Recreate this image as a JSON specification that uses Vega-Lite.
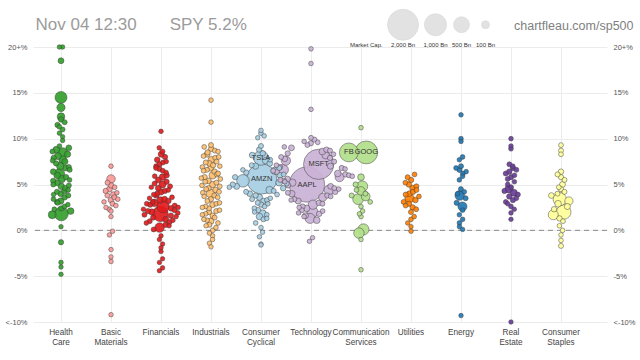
{
  "$schema": "https://vega.github.io/schema/vega-lite/v6.json",
  "width": 574,
  "height": 275,
  "autosize": {"type": "none"},
  "padding": {"left": 33, "top": 47, "right": 33, "bottom": 38},
  "background": "white",
  "config": {
    "font": "Liberation Sans",
    "view": {"stroke": null},
    "axis": {"labelFont": "Liberation Sans", "titleFont": "Liberation Sans"},
    "legend": {"labelFont": "Liberation Sans", "titleFont": "Liberation Sans"}
  },
  "resolve": {"axis": {"y": "independent"}},
  "layer": [
    {
      "data": {"values": [{}]},
      "mark": {"type": "rule", "strokeDash": [5, 4], "color": "#8a8a8a", "strokeWidth": 1},
      "encoding": {
        "y": {
          "datum": 0,
          "type": "quantitative",
          "scale": {"domain": [-10, 20], "clamp": true, "nice": false, "zero": false},
          "axis": {
            "orient": "right",
            "values": [-10, -5, 0, 5, 10, 15, 20],
            "labelExpr": "datum.value >= 20 ? '20+%' : datum.value <= -10 ? '<-10%' : datum.value + '%'",
            "labelFontSize": 7.5,
            "labelColor": "#555555",
            "labelPadding": 6,
            "ticks": false,
            "domain": false,
            "grid": false,
            "title": "chartfleau.com/sp500",
            "titleAngle": 0,
            "titleAlign": "right",
            "titleBaseline": "alphabetic",
            "titleX": 26,
            "titleY": -18,
            "titleFontSize": 12.5,
            "titleFontWeight": "normal",
            "titleColor": "#808080"
          }
        }
      }
    },
    {
      "data": {
        "values": [
          {"sector": "Health Care", "chg": 21, "cap": 12},
          {"sector": "Health Care", "chg": 20.3, "cap": 10},
          {"sector": "Health Care", "chg": 18.5, "cap": 40},
          {"sector": "Health Care", "chg": 14.5, "cap": 270},
          {"sector": "Health Care", "chg": 13.4, "cap": 110},
          {"sector": "Health Care", "chg": 12.4, "cap": 90},
          {"sector": "Health Care", "chg": 12.1, "cap": 30},
          {"sector": "Health Care", "chg": 11.8, "cap": 20},
          {"sector": "Health Care", "chg": 11.5, "cap": 25},
          {"sector": "Health Care", "chg": 11.3, "cap": 15},
          {"sector": "Health Care", "chg": 11.0, "cap": 18},
          {"sector": "Health Care", "chg": 10.6, "cap": 12},
          {"sector": "Health Care", "chg": 10.2, "cap": 10},
          {"sector": "Health Care", "chg": 9.8, "cap": 10},
          {"sector": "Health Care", "chg": 9.2, "cap": 12},
          {"sector": "Health Care", "chg": 9.0, "cap": 40},
          {"sector": "Health Care", "chg": 8.8, "cap": 60},
          {"sector": "Health Care", "chg": 8.6, "cap": 20},
          {"sector": "Health Care", "chg": 8.5, "cap": 150},
          {"sector": "Health Care", "chg": 8.3, "cap": 50},
          {"sector": "Health Care", "chg": 8.1, "cap": 70},
          {"sector": "Health Care", "chg": 7.9, "cap": 30},
          {"sector": "Health Care", "chg": 7.7, "cap": 100},
          {"sector": "Health Care", "chg": 7.6, "cap": 15},
          {"sector": "Health Care", "chg": 7.5, "cap": 45},
          {"sector": "Health Care", "chg": 7.3, "cap": 25},
          {"sector": "Health Care", "chg": 7.0, "cap": 90},
          {"sector": "Health Care", "chg": 6.9, "cap": 25},
          {"sector": "Health Care", "chg": 6.8, "cap": 40},
          {"sector": "Health Care", "chg": 6.6, "cap": 20},
          {"sector": "Health Care", "chg": 6.4, "cap": 35},
          {"sector": "Health Care", "chg": 6.2, "cap": 180},
          {"sector": "Health Care", "chg": 6.0, "cap": 60},
          {"sector": "Health Care", "chg": 5.8, "cap": 30},
          {"sector": "Health Care", "chg": 5.6, "cap": 80},
          {"sector": "Health Care", "chg": 5.5, "cap": 15},
          {"sector": "Health Care", "chg": 5.4, "cap": 25},
          {"sector": "Health Care", "chg": 5.2, "cap": 45},
          {"sector": "Health Care", "chg": 5.0, "cap": 20},
          {"sector": "Health Care", "chg": 4.9, "cap": 20},
          {"sector": "Health Care", "chg": 4.8, "cap": 55},
          {"sector": "Health Care", "chg": 4.6, "cap": 30},
          {"sector": "Health Care", "chg": 4.4, "cap": 15},
          {"sector": "Health Care", "chg": 4.3, "cap": 35},
          {"sector": "Health Care", "chg": 4.2, "cap": 25},
          {"sector": "Health Care", "chg": 4.0, "cap": 40},
          {"sector": "Health Care", "chg": 3.9, "cap": 12},
          {"sector": "Health Care", "chg": 3.8, "cap": 20},
          {"sector": "Health Care", "chg": 3.6, "cap": 30},
          {"sector": "Health Care", "chg": 3.4, "cap": 15},
          {"sector": "Health Care", "chg": 3.2, "cap": 50},
          {"sector": "Health Care", "chg": 3.1, "cap": 25},
          {"sector": "Health Care", "chg": 3.0, "cap": 20},
          {"sector": "Health Care", "chg": 2.8, "cap": 12},
          {"sector": "Health Care", "chg": 2.6, "cap": 18},
          {"sector": "Health Care", "chg": 2.4, "cap": 25},
          {"sector": "Health Care", "chg": 2.3, "cap": 15},
          {"sector": "Health Care", "chg": 2.1, "cap": 60},
          {"sector": "Health Care", "chg": 1.8, "cap": 380},
          {"sector": "Health Care", "chg": 1.7, "cap": 100},
          {"sector": "Health Care", "chg": 0.4, "cap": 10},
          {"sector": "Health Care", "chg": -1.3, "cap": 25},
          {"sector": "Health Care", "chg": -3.5, "cap": 12},
          {"sector": "Health Care", "chg": -4.0, "cap": 10},
          {"sector": "Health Care", "chg": -4.8, "cap": 10},

          {"sector": "Basic Materials", "chg": 7.0, "cap": 12},
          {"sector": "Basic Materials", "chg": 5.6, "cap": 120},
          {"sector": "Basic Materials", "chg": 5.2, "cap": 20},
          {"sector": "Basic Materials", "chg": 4.9, "cap": 30},
          {"sector": "Basic Materials", "chg": 4.7, "cap": 15},
          {"sector": "Basic Materials", "chg": 4.5, "cap": 40},
          {"sector": "Basic Materials", "chg": 4.3, "cap": 25},
          {"sector": "Basic Materials", "chg": 4.1, "cap": 12},
          {"sector": "Basic Materials", "chg": 3.9, "cap": 35},
          {"sector": "Basic Materials", "chg": 3.8, "cap": 18},
          {"sector": "Basic Materials", "chg": 3.6, "cap": 22},
          {"sector": "Basic Materials", "chg": 3.4, "cap": 15},
          {"sector": "Basic Materials", "chg": 3.3, "cap": 28},
          {"sector": "Basic Materials", "chg": 3.1, "cap": 12},
          {"sector": "Basic Materials", "chg": 2.9, "cap": 20},
          {"sector": "Basic Materials", "chg": 2.7, "cap": 14},
          {"sector": "Basic Materials", "chg": 2.5, "cap": 10},
          {"sector": "Basic Materials", "chg": 2.3, "cap": 16},
          {"sector": "Basic Materials", "chg": 2.1, "cap": 12},
          {"sector": "Basic Materials", "chg": 1.5, "cap": 10},
          {"sector": "Basic Materials", "chg": -0.1, "cap": 12},
          {"sector": "Basic Materials", "chg": -0.5, "cap": 10},
          {"sector": "Basic Materials", "chg": -2.1, "cap": 10},
          {"sector": "Basic Materials", "chg": -2.9, "cap": 10},
          {"sector": "Basic Materials", "chg": -3.4, "cap": 12},
          {"sector": "Basic Materials", "chg": -9.2, "cap": 10},

          {"sector": "Financials", "chg": 10.8, "cap": 12},
          {"sector": "Financials", "chg": 9.0, "cap": 12},
          {"sector": "Financials", "chg": 8.6, "cap": 20},
          {"sector": "Financials", "chg": 8.3, "cap": 45},
          {"sector": "Financials", "chg": 8.0, "cap": 25},
          {"sector": "Financials", "chg": 7.7, "cap": 35},
          {"sector": "Financials", "chg": 7.5, "cap": 12},
          {"sector": "Financials", "chg": 7.4, "cap": 18},
          {"sector": "Financials", "chg": 7.2, "cap": 30},
          {"sector": "Financials", "chg": 7.0, "cap": 15},
          {"sector": "Financials", "chg": 6.8, "cap": 15},
          {"sector": "Financials", "chg": 6.7, "cap": 25},
          {"sector": "Financials", "chg": 6.5, "cap": 20},
          {"sector": "Financials", "chg": 6.3, "cap": 15},
          {"sector": "Financials", "chg": 6.0, "cap": 30},
          {"sector": "Financials", "chg": 5.9, "cap": 15},
          {"sector": "Financials", "chg": 5.8, "cap": 60},
          {"sector": "Financials", "chg": 5.5, "cap": 40},
          {"sector": "Financials", "chg": 5.3, "cap": 25},
          {"sector": "Financials", "chg": 5.1, "cap": 20},
          {"sector": "Financials", "chg": 5.0, "cap": 70},
          {"sector": "Financials", "chg": 4.8, "cap": 20},
          {"sector": "Financials", "chg": 4.7, "cap": 12},
          {"sector": "Financials", "chg": 4.6, "cap": 35},
          {"sector": "Financials", "chg": 4.4, "cap": 15},
          {"sector": "Financials", "chg": 4.3, "cap": 25},
          {"sector": "Financials", "chg": 4.2, "cap": 50},
          {"sector": "Financials", "chg": 4.0, "cap": 25},
          {"sector": "Financials", "chg": 3.9, "cap": 15},
          {"sector": "Financials", "chg": 3.8, "cap": 30},
          {"sector": "Financials", "chg": 3.6, "cap": 18},
          {"sector": "Financials", "chg": 3.5, "cap": 12},
          {"sector": "Financials", "chg": 3.4, "cap": 40},
          {"sector": "Financials", "chg": 3.3, "cap": 60},
          {"sector": "Financials", "chg": 3.2, "cap": 30},
          {"sector": "Financials", "chg": 3.1, "cap": 20},
          {"sector": "Financials", "chg": 3.0, "cap": 90},
          {"sector": "Financials", "chg": 2.9, "cap": 15},
          {"sector": "Financials", "chg": 2.8, "cap": 25},
          {"sector": "Financials", "chg": 2.7, "cap": 20},
          {"sector": "Financials", "chg": 2.6, "cap": 300},
          {"sector": "Financials", "chg": 2.5, "cap": 15},
          {"sector": "Financials", "chg": 2.4, "cap": 35},
          {"sector": "Financials", "chg": 2.3, "cap": 12},
          {"sector": "Financials", "chg": 2.2, "cap": 20},
          {"sector": "Financials", "chg": 2.1, "cap": 25},
          {"sector": "Financials", "chg": 2.0, "cap": 50},
          {"sector": "Financials", "chg": 1.9, "cap": 15},
          {"sector": "Financials", "chg": 1.8, "cap": 480},
          {"sector": "Financials", "chg": 1.7, "cap": 20},
          {"sector": "Financials", "chg": 1.6, "cap": 30},
          {"sector": "Financials", "chg": 1.5, "cap": 12},
          {"sector": "Financials", "chg": 1.4, "cap": 25},
          {"sector": "Financials", "chg": 1.2, "cap": 40},
          {"sector": "Financials", "chg": 1.1, "cap": 15},
          {"sector": "Financials", "chg": 1.0, "cap": 20},
          {"sector": "Financials", "chg": 0.9, "cap": 25},
          {"sector": "Financials", "chg": 0.8, "cap": 15},
          {"sector": "Financials", "chg": 0.6, "cap": 30},
          {"sector": "Financials", "chg": 0.5, "cap": 12},
          {"sector": "Financials", "chg": 0.3, "cap": 160},
          {"sector": "Financials", "chg": 0.1, "cap": 20},
          {"sector": "Financials", "chg": -0.6, "cap": 12},
          {"sector": "Financials", "chg": -1.0, "cap": 10},
          {"sector": "Financials", "chg": -1.5, "cap": 12},
          {"sector": "Financials", "chg": -1.9, "cap": 10},
          {"sector": "Financials", "chg": -2.3, "cap": 12},
          {"sector": "Financials", "chg": -3.1, "cap": 10},
          {"sector": "Financials", "chg": -3.5, "cap": 10},
          {"sector": "Financials", "chg": -4.1, "cap": 12},
          {"sector": "Financials", "chg": -4.4, "cap": 10},

          {"sector": "Industrials", "chg": 14.2, "cap": 12},
          {"sector": "Industrials", "chg": 11.8, "cap": 12},
          {"sector": "Industrials", "chg": 9.3, "cap": 20},
          {"sector": "Industrials", "chg": 9.1, "cap": 15},
          {"sector": "Industrials", "chg": 8.9, "cap": 30},
          {"sector": "Industrials", "chg": 8.7, "cap": 18},
          {"sector": "Industrials", "chg": 8.6, "cap": 12},
          {"sector": "Industrials", "chg": 8.5, "cap": 25},
          {"sector": "Industrials", "chg": 8.3, "cap": 40},
          {"sector": "Industrials", "chg": 8.1, "cap": 15},
          {"sector": "Industrials", "chg": 8.0, "cap": 15},
          {"sector": "Industrials", "chg": 7.9, "cap": 22},
          {"sector": "Industrials", "chg": 7.7, "cap": 60},
          {"sector": "Industrials", "chg": 7.5, "cap": 18},
          {"sector": "Industrials", "chg": 7.4, "cap": 20},
          {"sector": "Industrials", "chg": 7.3, "cap": 35},
          {"sector": "Industrials", "chg": 7.1, "cap": 25},
          {"sector": "Industrials", "chg": 7.0, "cap": 12},
          {"sector": "Industrials", "chg": 6.9, "cap": 15},
          {"sector": "Industrials", "chg": 6.8, "cap": 45},
          {"sector": "Industrials", "chg": 6.6, "cap": 20},
          {"sector": "Industrials", "chg": 6.5, "cap": 15},
          {"sector": "Industrials", "chg": 6.4, "cap": 30},
          {"sector": "Industrials", "chg": 6.2, "cap": 18},
          {"sector": "Industrials", "chg": 6.1, "cap": 25},
          {"sector": "Industrials", "chg": 6.0, "cap": 80},
          {"sector": "Industrials", "chg": 5.8, "cap": 25},
          {"sector": "Industrials", "chg": 5.7, "cap": 12},
          {"sector": "Industrials", "chg": 5.6, "cap": 15},
          {"sector": "Industrials", "chg": 5.4, "cap": 35},
          {"sector": "Industrials", "chg": 5.3, "cap": 18},
          {"sector": "Industrials", "chg": 5.2, "cap": 20},
          {"sector": "Industrials", "chg": 5.0, "cap": 50},
          {"sector": "Industrials", "chg": 4.9, "cap": 12},
          {"sector": "Industrials", "chg": 4.8, "cap": 15},
          {"sector": "Industrials", "chg": 4.6, "cap": 25},
          {"sector": "Industrials", "chg": 4.5, "cap": 20},
          {"sector": "Industrials", "chg": 4.4, "cap": 30},
          {"sector": "Industrials", "chg": 4.2, "cap": 18},
          {"sector": "Industrials", "chg": 4.1, "cap": 15},
          {"sector": "Industrials", "chg": 4.0, "cap": 130},
          {"sector": "Industrials", "chg": 3.8, "cap": 20},
          {"sector": "Industrials", "chg": 3.7, "cap": 12},
          {"sector": "Industrials", "chg": 3.6, "cap": 15},
          {"sector": "Industrials", "chg": 3.4, "cap": 25},
          {"sector": "Industrials", "chg": 3.2, "cap": 18},
          {"sector": "Industrials", "chg": 3.0, "cap": 12},
          {"sector": "Industrials", "chg": 2.9, "cap": 15},
          {"sector": "Industrials", "chg": 2.8, "cap": 40},
          {"sector": "Industrials", "chg": 2.6, "cap": 15},
          {"sector": "Industrials", "chg": 2.5, "cap": 12},
          {"sector": "Industrials", "chg": 2.4, "cap": 20},
          {"sector": "Industrials", "chg": 2.2, "cap": 12},
          {"sector": "Industrials", "chg": 2.1, "cap": 20},
          {"sector": "Industrials", "chg": 2.0, "cap": 25},
          {"sector": "Industrials", "chg": 1.8, "cap": 15},
          {"sector": "Industrials", "chg": 1.7, "cap": 12},
          {"sector": "Industrials", "chg": 1.6, "cap": 30},
          {"sector": "Industrials", "chg": 1.4, "cap": 18},
          {"sector": "Industrials", "chg": 1.2, "cap": 12},
          {"sector": "Industrials", "chg": 1.1, "cap": 15},
          {"sector": "Industrials", "chg": 1.0, "cap": 50},
          {"sector": "Industrials", "chg": 0.8, "cap": 15},
          {"sector": "Industrials", "chg": 0.6, "cap": 20},
          {"sector": "Industrials", "chg": 0.5, "cap": 12},
          {"sector": "Industrials", "chg": 0.3, "cap": 12},
          {"sector": "Industrials", "chg": 0.0, "cap": 15},
          {"sector": "Industrials", "chg": -0.3, "cap": 10},
          {"sector": "Industrials", "chg": -0.6, "cap": 12},
          {"sector": "Industrials", "chg": -1.0, "cap": 10},
          {"sector": "Industrials", "chg": -1.4, "cap": 10},
          {"sector": "Industrials", "chg": -1.8, "cap": 10},

          {"sector": "Consumer Cyclical", "chg": 10.9, "cap": 12},
          {"sector": "Consumer Cyclical", "chg": 10.6, "cap": 15},
          {"sector": "Consumer Cyclical", "chg": 10.3, "cap": 12},
          {"sector": "Consumer Cyclical", "chg": 10.1, "cap": 10},
          {"sector": "Consumer Cyclical", "chg": 9.2, "cap": 20},
          {"sector": "Consumer Cyclical", "chg": 8.8, "cap": 25},
          {"sector": "Consumer Cyclical", "chg": 8.4, "cap": 30},
          {"sector": "Consumer Cyclical", "chg": 8.2, "cap": 40},
          {"sector": "Consumer Cyclical", "chg": 7.9, "cap": 430, "tk": "TSLA"},
          {"sector": "Consumer Cyclical", "chg": 7.7, "cap": 15},
          {"sector": "Consumer Cyclical", "chg": 7.6, "cap": 60},
          {"sector": "Consumer Cyclical", "chg": 7.3, "cap": 35},
          {"sector": "Consumer Cyclical", "chg": 7.1, "cap": 20},
          {"sector": "Consumer Cyclical", "chg": 7.0, "cap": 50},
          {"sector": "Consumer Cyclical", "chg": 6.8, "cap": 20},
          {"sector": "Consumer Cyclical", "chg": 6.6, "cap": 12},
          {"sector": "Consumer Cyclical", "chg": 6.5, "cap": 90},
          {"sector": "Consumer Cyclical", "chg": 6.3, "cap": 25},
          {"sector": "Consumer Cyclical", "chg": 6.1, "cap": 15},
          {"sector": "Consumer Cyclical", "chg": 6.0, "cap": 40},
          {"sector": "Consumer Cyclical", "chg": 5.8, "cap": 25},
          {"sector": "Consumer Cyclical", "chg": 5.6, "cap": 1900, "tk": "AMZN"},
          {"sector": "Consumer Cyclical", "chg": 5.4, "cap": 300},
          {"sector": "Consumer Cyclical", "chg": 5.2, "cap": 60},
          {"sector": "Consumer Cyclical", "chg": 5.1, "cap": 18},
          {"sector": "Consumer Cyclical", "chg": 5.0, "cap": 25},
          {"sector": "Consumer Cyclical", "chg": 4.8, "cap": 45},
          {"sector": "Consumer Cyclical", "chg": 4.7, "cap": 12},
          {"sector": "Consumer Cyclical", "chg": 4.6, "cap": 30},
          {"sector": "Consumer Cyclical", "chg": 4.4, "cap": 80},
          {"sector": "Consumer Cyclical", "chg": 4.3, "cap": 20},
          {"sector": "Consumer Cyclical", "chg": 4.2, "cap": 20},
          {"sector": "Consumer Cyclical", "chg": 4.0, "cap": 35},
          {"sector": "Consumer Cyclical", "chg": 3.9, "cap": 15},
          {"sector": "Consumer Cyclical", "chg": 3.8, "cap": 25},
          {"sector": "Consumer Cyclical", "chg": 3.6, "cap": 50},
          {"sector": "Consumer Cyclical", "chg": 3.5, "cap": 12},
          {"sector": "Consumer Cyclical", "chg": 3.4, "cap": 18},
          {"sector": "Consumer Cyclical", "chg": 3.3, "cap": 20},
          {"sector": "Consumer Cyclical", "chg": 3.2, "cap": 30},
          {"sector": "Consumer Cyclical", "chg": 3.0, "cap": 20},
          {"sector": "Consumer Cyclical", "chg": 2.9, "cap": 12},
          {"sector": "Consumer Cyclical", "chg": 2.8, "cap": 25},
          {"sector": "Consumer Cyclical", "chg": 2.6, "cap": 15},
          {"sector": "Consumer Cyclical", "chg": 2.4, "cap": 15},
          {"sector": "Consumer Cyclical", "chg": 2.2, "cap": 30},
          {"sector": "Consumer Cyclical", "chg": 2.0, "cap": 12},
          {"sector": "Consumer Cyclical", "chg": 1.8, "cap": 100},
          {"sector": "Consumer Cyclical", "chg": 1.7, "cap": 15},
          {"sector": "Consumer Cyclical", "chg": 1.5, "cap": 60},
          {"sector": "Consumer Cyclical", "chg": 1.3, "cap": 12},
          {"sector": "Consumer Cyclical", "chg": 1.2, "cap": 20},
          {"sector": "Consumer Cyclical", "chg": 0.8, "cap": 15},
          {"sector": "Consumer Cyclical", "chg": 0.3, "cap": 12},
          {"sector": "Consumer Cyclical", "chg": -0.2, "cap": 10},
          {"sector": "Consumer Cyclical", "chg": -0.7, "cap": 10},
          {"sector": "Consumer Cyclical", "chg": -1.5, "cap": 10},
          {"sector": "Consumer Cyclical", "chg": -1.6, "cap": 10},

          {"sector": "Technology", "chg": 19.8, "cap": 12},
          {"sector": "Technology", "chg": 18.2, "cap": 12},
          {"sector": "Technology", "chg": 13.2, "cap": 12},
          {"sector": "Technology", "chg": 10.1, "cap": 15},
          {"sector": "Technology", "chg": 9.9, "cap": 20},
          {"sector": "Technology", "chg": 9.7, "cap": 12},
          {"sector": "Technology", "chg": 9.6, "cap": 15},
          {"sector": "Technology", "chg": 9.5, "cap": 25},
          {"sector": "Technology", "chg": 9.3, "cap": 18},
          {"sector": "Technology", "chg": 9.1, "cap": 12},
          {"sector": "Technology", "chg": 9.0, "cap": 40},
          {"sector": "Technology", "chg": 8.8, "cap": 30},
          {"sector": "Technology", "chg": 8.7, "cap": 20},
          {"sector": "Technology", "chg": 8.6, "cap": 60},
          {"sector": "Technology", "chg": 8.4, "cap": 25},
          {"sector": "Technology", "chg": 8.3, "cap": 15},
          {"sector": "Technology", "chg": 8.2, "cap": 90},
          {"sector": "Technology", "chg": 8.0, "cap": 20},
          {"sector": "Technology", "chg": 7.9, "cap": 25},
          {"sector": "Technology", "chg": 7.8, "cap": 35},
          {"sector": "Technology", "chg": 7.6, "cap": 150},
          {"sector": "Technology", "chg": 7.5, "cap": 20},
          {"sector": "Technology", "chg": 7.2, "cap": 1900, "tk": "MSFT"},
          {"sector": "Technology", "chg": 7.1, "cap": 15},
          {"sector": "Technology", "chg": 7.0, "cap": 45},
          {"sector": "Technology", "chg": 6.9, "cap": 30},
          {"sector": "Technology", "chg": 6.8, "cap": 25},
          {"sector": "Technology", "chg": 6.7, "cap": 12},
          {"sector": "Technology", "chg": 6.6, "cap": 200},
          {"sector": "Technology", "chg": 6.5, "cap": 20},
          {"sector": "Technology", "chg": 6.4, "cap": 30},
          {"sector": "Technology", "chg": 6.2, "cap": 60},
          {"sector": "Technology", "chg": 6.1, "cap": 25},
          {"sector": "Technology", "chg": 6.0, "cap": 20},
          {"sector": "Technology", "chg": 5.9, "cap": 15},
          {"sector": "Technology", "chg": 5.8, "cap": 140},
          {"sector": "Technology", "chg": 5.6, "cap": 35},
          {"sector": "Technology", "chg": 5.5, "cap": 20},
          {"sector": "Technology", "chg": 5.4, "cap": 25},
          {"sector": "Technology", "chg": 5.3, "cap": 12},
          {"sector": "Technology", "chg": 5.2, "cap": 80},
          {"sector": "Technology", "chg": 5.0, "cap": 2600, "tk": "AAPL"},
          {"sector": "Technology", "chg": 4.9, "cap": 25},
          {"sector": "Technology", "chg": 4.8, "cap": 40},
          {"sector": "Technology", "chg": 4.6, "cap": 20},
          {"sector": "Technology", "chg": 4.5, "cap": 15},
          {"sector": "Technology", "chg": 4.4, "cap": 170},
          {"sector": "Technology", "chg": 4.2, "cap": 30},
          {"sector": "Technology", "chg": 4.1, "cap": 20},
          {"sector": "Technology", "chg": 4.0, "cap": 55},
          {"sector": "Technology", "chg": 3.8, "cap": 25},
          {"sector": "Technology", "chg": 3.7, "cap": 15},
          {"sector": "Technology", "chg": 3.6, "cap": 110},
          {"sector": "Technology", "chg": 3.4, "cap": 20},
          {"sector": "Technology", "chg": 3.3, "cap": 12},
          {"sector": "Technology", "chg": 3.2, "cap": 45},
          {"sector": "Technology", "chg": 3.0, "cap": 30},
          {"sector": "Technology", "chg": 2.9, "cap": 20},
          {"sector": "Technology", "chg": 2.8, "cap": 150},
          {"sector": "Technology", "chg": 2.6, "cap": 25},
          {"sector": "Technology", "chg": 2.5, "cap": 12},
          {"sector": "Technology", "chg": 2.4, "cap": 60},
          {"sector": "Technology", "chg": 2.2, "cap": 20},
          {"sector": "Technology", "chg": 2.1, "cap": 15},
          {"sector": "Technology", "chg": 2.0, "cap": 230},
          {"sector": "Technology", "chg": 1.9, "cap": 12},
          {"sector": "Technology", "chg": 1.8, "cap": 30},
          {"sector": "Technology", "chg": 1.6, "cap": 40},
          {"sector": "Technology", "chg": 1.5, "cap": 15},
          {"sector": "Technology", "chg": 1.3, "cap": 180},
          {"sector": "Technology", "chg": 1.1, "cap": 60},
          {"sector": "Technology", "chg": -0.8, "cap": 10},
          {"sector": "Technology", "chg": -1.2, "cap": 10},

          {"sector": "Communication Services", "chg": 11.2, "cap": 12},
          {"sector": "Communication Services", "chg": 8.5, "cap": 720, "tk": "FB"},
          {"sector": "Communication Services", "chg": 8.5, "cap": 1070, "tk": "GOOG"},
          {"sector": "Communication Services", "chg": 5.8, "cap": 60},
          {"sector": "Communication Services", "chg": 5.0, "cap": 25},
          {"sector": "Communication Services", "chg": 4.8, "cap": 220},
          {"sector": "Communication Services", "chg": 4.4, "cap": 15},
          {"sector": "Communication Services", "chg": 4.3, "cap": 120},
          {"sector": "Communication Services", "chg": 4.0, "cap": 20},
          {"sector": "Communication Services", "chg": 3.8, "cap": 20},
          {"sector": "Communication Services", "chg": 3.7, "cap": 130},
          {"sector": "Communication Services", "chg": 3.4, "cap": 210},
          {"sector": "Communication Services", "chg": 3.1, "cap": 15},
          {"sector": "Communication Services", "chg": 2.6, "cap": 12},
          {"sector": "Communication Services", "chg": 2.1, "cap": 12},
          {"sector": "Communication Services", "chg": 1.8, "cap": 10},
          {"sector": "Communication Services", "chg": 1.5, "cap": 12},
          {"sector": "Communication Services", "chg": 0.1, "cap": 230},
          {"sector": "Communication Services", "chg": -0.3, "cap": 200},
          {"sector": "Communication Services", "chg": -1.0, "cap": 12},
          {"sector": "Communication Services", "chg": -4.3, "cap": 12},

          {"sector": "Utilities", "chg": 6.1, "cap": 15},
          {"sector": "Utilities", "chg": 5.8, "cap": 20},
          {"sector": "Utilities", "chg": 5.5, "cap": 25},
          {"sector": "Utilities", "chg": 5.2, "cap": 15},
          {"sector": "Utilities", "chg": 5.0, "cap": 30},
          {"sector": "Utilities", "chg": 4.8, "cap": 20},
          {"sector": "Utilities", "chg": 4.6, "cap": 40},
          {"sector": "Utilities", "chg": 4.4, "cap": 18},
          {"sector": "Utilities", "chg": 4.2, "cap": 25},
          {"sector": "Utilities", "chg": 4.0, "cap": 35},
          {"sector": "Utilities", "chg": 3.9, "cap": 20},
          {"sector": "Utilities", "chg": 3.7, "cap": 15},
          {"sector": "Utilities", "chg": 3.5, "cap": 150},
          {"sector": "Utilities", "chg": 3.3, "cap": 30},
          {"sector": "Utilities", "chg": 3.1, "cap": 20},
          {"sector": "Utilities", "chg": 2.9, "cap": 25},
          {"sector": "Utilities", "chg": 2.7, "cap": 15},
          {"sector": "Utilities", "chg": 2.5, "cap": 30},
          {"sector": "Utilities", "chg": 2.3, "cap": 18},
          {"sector": "Utilities", "chg": 2.0, "cap": 20},
          {"sector": "Utilities", "chg": 1.5, "cap": 12},
          {"sector": "Utilities", "chg": 1.2, "cap": 15},
          {"sector": "Utilities", "chg": 0.8, "cap": 12},
          {"sector": "Utilities", "chg": 0.4, "cap": 10},
          {"sector": "Utilities", "chg": -0.1, "cap": 10},

          {"sector": "Energy", "chg": 12.6, "cap": 12},
          {"sector": "Energy", "chg": 10.0, "cap": 15},
          {"sector": "Energy", "chg": 9.7, "cap": 12},
          {"sector": "Energy", "chg": 8.0, "cap": 15},
          {"sector": "Energy", "chg": 7.7, "cap": 12},
          {"sector": "Energy", "chg": 7.0, "cap": 20},
          {"sector": "Energy", "chg": 6.8, "cap": 15},
          {"sector": "Energy", "chg": 6.6, "cap": 25},
          {"sector": "Energy", "chg": 6.4, "cap": 12},
          {"sector": "Energy", "chg": 6.2, "cap": 18},
          {"sector": "Energy", "chg": 5.9, "cap": 15},
          {"sector": "Energy", "chg": 5.5, "cap": 12},
          {"sector": "Energy", "chg": 4.5, "cap": 20},
          {"sector": "Energy", "chg": 4.2, "cap": 15},
          {"sector": "Energy", "chg": 4.0, "cap": 12},
          {"sector": "Energy", "chg": 3.8, "cap": 160},
          {"sector": "Energy", "chg": 3.5, "cap": 20},
          {"sector": "Energy", "chg": 3.0, "cap": 25},
          {"sector": "Energy", "chg": 2.6, "cap": 140},
          {"sector": "Energy", "chg": 2.2, "cap": 15},
          {"sector": "Energy", "chg": 1.7, "cap": 12},
          {"sector": "Energy", "chg": 1.2, "cap": 12},
          {"sector": "Energy", "chg": 0.8, "cap": 15},
          {"sector": "Energy", "chg": 0.4, "cap": 12},
          {"sector": "Energy", "chg": 0.1, "cap": 10},
          {"sector": "Energy", "chg": -9.3, "cap": 10},

          {"sector": "Real Estate", "chg": 10.0, "cap": 12},
          {"sector": "Real Estate", "chg": 9.2, "cap": 12},
          {"sector": "Real Estate", "chg": 8.9, "cap": 15},
          {"sector": "Real Estate", "chg": 7.2, "cap": 20},
          {"sector": "Real Estate", "chg": 7.0, "cap": 15},
          {"sector": "Real Estate", "chg": 6.8, "cap": 25},
          {"sector": "Real Estate", "chg": 6.6, "cap": 18},
          {"sector": "Real Estate", "chg": 6.4, "cap": 30},
          {"sector": "Real Estate", "chg": 6.2, "cap": 20},
          {"sector": "Real Estate", "chg": 6.0, "cap": 15},
          {"sector": "Real Estate", "chg": 5.8, "cap": 22},
          {"sector": "Real Estate", "chg": 5.6, "cap": 18},
          {"sector": "Real Estate", "chg": 5.3, "cap": 12},
          {"sector": "Real Estate", "chg": 5.0, "cap": 15},
          {"sector": "Real Estate", "chg": 4.7, "cap": 20},
          {"sector": "Real Estate", "chg": 4.5, "cap": 100},
          {"sector": "Real Estate", "chg": 4.3, "cap": 25},
          {"sector": "Real Estate", "chg": 4.1, "cap": 70},
          {"sector": "Real Estate", "chg": 3.9, "cap": 20},
          {"sector": "Real Estate", "chg": 3.7, "cap": 30},
          {"sector": "Real Estate", "chg": 3.5, "cap": 15},
          {"sector": "Real Estate", "chg": 3.3, "cap": 25},
          {"sector": "Real Estate", "chg": 3.1, "cap": 18},
          {"sector": "Real Estate", "chg": 2.9, "cap": 12},
          {"sector": "Real Estate", "chg": 2.6, "cap": 15},
          {"sector": "Real Estate", "chg": 2.3, "cap": 12},
          {"sector": "Real Estate", "chg": 1.9, "cap": 12},
          {"sector": "Real Estate", "chg": 1.2, "cap": 10},
          {"sector": "Real Estate", "chg": -11, "cap": 10},

          {"sector": "Consumer Staples", "chg": 9.3, "cap": 15},
          {"sector": "Consumer Staples", "chg": 8.7, "cap": 18},
          {"sector": "Consumer Staples", "chg": 8.3, "cap": 15},
          {"sector": "Consumer Staples", "chg": 6.4, "cap": 30},
          {"sector": "Consumer Staples", "chg": 6.1, "cap": 20},
          {"sector": "Consumer Staples", "chg": 5.8, "cap": 25},
          {"sector": "Consumer Staples", "chg": 5.5, "cap": 18},
          {"sector": "Consumer Staples", "chg": 5.0, "cap": 40},
          {"sector": "Consumer Staples", "chg": 4.7, "cap": 15},
          {"sector": "Consumer Staples", "chg": 4.5, "cap": 25},
          {"sector": "Consumer Staples", "chg": 4.2, "cap": 20},
          {"sector": "Consumer Staples", "chg": 4.0, "cap": 18},
          {"sector": "Consumer Staples", "chg": 3.8, "cap": 35},
          {"sector": "Consumer Staples", "chg": 3.4, "cap": 340},
          {"sector": "Consumer Staples", "chg": 3.2, "cap": 110},
          {"sector": "Consumer Staples", "chg": 2.9, "cap": 60},
          {"sector": "Consumer Staples", "chg": 2.6, "cap": 45},
          {"sector": "Consumer Staples", "chg": 2.3, "cap": 30},
          {"sector": "Consumer Staples", "chg": 2.0, "cap": 410},
          {"sector": "Consumer Staples", "chg": 1.7, "cap": 180},
          {"sector": "Consumer Staples", "chg": 1.3, "cap": 30},
          {"sector": "Consumer Staples", "chg": 1.0, "cap": 15},
          {"sector": "Consumer Staples", "chg": 0.5, "cap": 12},
          {"sector": "Consumer Staples", "chg": 0.0, "cap": 12},
          {"sector": "Consumer Staples", "chg": -0.5, "cap": 12},
          {"sector": "Consumer Staples", "chg": -1.1, "cap": 12},
          {"sector": "Consumer Staples", "chg": -1.7, "cap": 20}
        ]
      },
      "transform": [
        {"calculate": "sqrt(16 + datum.cap * 945 / 2000)", "as": "d"},
        {"calculate": "clamp(datum.chg, -10, 20) * 275 / 30", "as": "ypx"},
        {"calculate": "floor(datum.ypx / 7)", "as": "row"},
        {"calculate": "floor(datum.row / 2) % 2 == 0 ? 1 : -1", "as": "s0"},
        {"calculate": "floor(datum.d / 14 + 0.25)", "as": "ns"},
        {"window": [{"op": "row_number", "as": "id"}]},
        {"calculate": "sequence(-datum.ns, datum.ns + 1)", "as": "ks"},
        {"flatten": ["ks"], "as": ["k"]},
        {"calculate": "datum.row + datum.k", "as": "rr"},
        {"calculate": "datum.k == 0 ? 0 : abs((datum.rr + 0.5) * 7 - datum.ypx)", "as": "dy"},
        {"calculate": "datum.k == 0 ? datum.d : 2 * sqrt(max(0, datum.d * datum.d / 4 - datum.dy * datum.dy))", "as": "w"},
        {"filter": "datum.k == 0 || datum.w > 6"},
        {"window": [{"op": "row_number", "as": "rk"}], "groupby": ["sector", "rr"], "sort": [{"field": "cap", "order": "descending"}, {"field": "id", "order": "ascending"}]},
        {"calculate": "datum.rk == 1 ? 1 : 0", "as": "top"},
        {"joinaggregate": [{"op": "min", "field": "top", "as": "alltop"}], "groupby": ["id"]},
        {"window": [{"op": "row_number", "as": "rk2"}], "groupby": ["sector", "rr", "alltop"], "sort": [{"field": "cap", "order": "descending"}, {"field": "id", "order": "ascending"}]},
        {"calculate": "datum.w * (datum.w < 9 ? 0.62 : (datum.w < 12 ? 0.85 : 0.95)) + 0.3", "as": "wg"},
        {"calculate": "datum.alltop == 1 ? datum.wg : 0", "as": "wcen"},
        {"joinaggregate": [{"op": "max", "field": "wcen", "as": "wc"}], "groupby": ["sector", "rr"]},
        {"calculate": "datum.alltop == 1 ? 0 : (datum.rk2 % 2 == 1 ? datum.s0 : -datum.s0)", "as": "side"},
        {"window": [{"op": "sum", "field": "wg", "as": "cum"}], "groupby": ["sector", "rr", "side"], "sort": [{"field": "cap", "order": "descending"}, {"field": "id", "order": "ascending"}], "frame": [null, 0]},
        {"calculate": "datum.side == 0 ? 0 : datum.side * (datum.wc / 2 + datum.cum - datum.wg / 2)", "as": "off"},
        {"calculate": "abs(datum.off)", "as": "aoff"},
        {"window": [{"op": "first_value", "field": "off", "as": "fin"}], "groupby": ["id"], "sort": [{"field": "aoff", "order": "descending"}]},
        {"calculate": "max(0, datum.side * (datum.fin - datum.off))", "as": "sh"},
        {"window": [{"op": "max", "field": "sh", "as": "shm"}], "groupby": ["sector", "rr", "side"], "sort": [{"field": "cap", "order": "descending"}, {"field": "id", "order": "ascending"}], "frame": [null, 0]},
        {"calculate": "datum.off + datum.side * datum.shm", "as": "adj"},
        {"calculate": "abs(datum.adj)", "as": "aadj"},
        {"window": [{"op": "first_value", "field": "adj", "as": "dx"}], "groupby": ["id"], "sort": [{"field": "aadj", "order": "descending"}]},
        {"calculate": "datum.w * datum.w", "as": "m"},
        {"calculate": "datum.m * datum.dx", "as": "mdx"},
        {"joinaggregate": [{"op": "sum", "field": "m", "as": "msum"}, {"op": "sum", "field": "mdx", "as": "mdxsum"}], "groupby": ["sector", "rr"]},
        {"calculate": "-datum.mdxsum / datum.msum", "as": "rsh"},
        {"joinaggregate": [{"op": "mean", "field": "rsh", "as": "ish"}], "groupby": ["id"]},
        {"filter": "datum.k == 0"},
        {"calculate": "datum.dx + datum.ish", "as": "px"}
      ],
      "encoding": {
        "x": {
          "field": "sector",
          "type": "nominal",
          "sort": ["Health Care", "Basic Materials", "Financials", "Industrials", "Consumer Cyclical", "Technology", "Communication Services", "Utilities", "Energy", "Real Estate", "Consumer Staples"],
          "scale": {"paddingInner": 0, "paddingOuter": 0.24, "align": 0.125},
          "axis": {
            "title": null,
            "labelExpr": "split(datum.label, ' ')",
            "labelAngle": 0,
            "labelFontSize": 8.2,
            "labelColor": "#444444",
            "labelPadding": 6,
            "labelLineHeight": 10,
            "labelBaseline": "top",
            "ticks": false,
            "domain": false,
            "grid": true,
            "gridColor": "#ececec",
            "bandPosition": 0.5
          }
        },
        "xOffset": {"field": "px", "type": "quantitative", "scale": {"domain": [-25, 25], "range": [0, 50]}},
        "y": {
          "field": "chg",
          "type": "quantitative",
          "scale": {"domain": [-10, 20], "clamp": true, "nice": false, "zero": false},
          "axis": {
            "orient": "left",
            "values": [-10, -5, 0, 5, 10, 15, 20],
            "labelExpr": "datum.value >= 20 ? '20+%' : datum.value <= -10 ? '<-10%' : datum.value + '%'",
            "labelFontSize": 7.5,
            "labelColor": "#555555",
            "labelPadding": 6,
            "ticks": false,
            "domain": false,
            "grid": true,
            "gridColor": "#ececec",
            "title": "Nov 04 12:30\u00a0\u00a0\u00a0\u00a0\u00a0\u00a0\u00a0SPY 5.2%",
            "titleAngle": 0,
            "titleAlign": "left",
            "titleBaseline": "alphabetic",
            "titleX": 2,
            "titleY": -18,
            "titleFontSize": 17,
            "titleFontWeight": "normal",
            "titleColor": "#9b9b9b"
          }
        }
      },
      "layer": [
        {
          "mark": {"type": "circle", "opacity": 1, "fillOpacity": 0.92, "stroke": "#3a3a3a", "strokeWidth": 0.6, "strokeOpacity": 0.8},
          "encoding": {
            "color": {
              "field": "sector",
              "type": "nominal",
              "scale": {
                "domain": ["Health Care", "Basic Materials", "Financials", "Industrials", "Consumer Cyclical", "Technology", "Communication Services", "Utilities", "Energy", "Real Estate", "Consumer Staples"],
                "range": ["#33a02c", "#fb9a99", "#e31a1c", "#fdbf6f", "#a6cee3", "#cab2d6", "#b2df8a", "#ff7f00", "#1f78b4", "#6a3d9a", "#ffff99"]
              },
              "legend": null
            },
            "size": {
              "field": "cap",
              "type": "quantitative",
              "scale": {"type": "linear", "domain": [0, 2000], "range": [16, 961]},
              "legend": {
                "orient": "none",
                "legendX": 317,
                "legendY": -41,
                "direction": "horizontal",
                "values": [2000, 1000, 500, 100],
                "title": "Market Cap.",
                "titleOrient": "left",
                "titleAnchor": "end",
                "titlePadding": 4,
                "titleFontSize": 6,
                "titleFontWeight": "normal",
                "titleColor": "#333333",
                "labelFontSize": 6,
                "labelColor": "#333333",
                "labelExpr": "format(datum.value, ',') + ' Bn'",
                "symbolFillColor": "#e2e2e2",
                "symbolStrokeColor": "#d6d6d6",
                "symbolStrokeWidth": 0.6,
                "symbolOpacity": 1,
                "columnPadding": 3,
                "encode": {
                  "symbols": {
                    "update": {
                      "y": {"value": 18.5}
                    }
                  },
                  "labels": {
                    "update": {
                      "x": {"signal": "datum.size * 0.5"},
                      "y": {"value": 40.5},
                      "align": {"value": "center"},
                      "baseline": {"value": "alphabetic"}
                    }
                  }
                }
              }
            },
            "order": {"field": "cap", "type": "quantitative", "sort": "descending"}
          }
        },
        {
          "transform": [{"filter": "datum.tk"}],
          "mark": {"type": "text", "fontSize": 7.5, "color": "#333333"},
          "encoding": {"text": {"field": "tk", "type": "nominal"}}
        }
      ]
    }
  ]
}
